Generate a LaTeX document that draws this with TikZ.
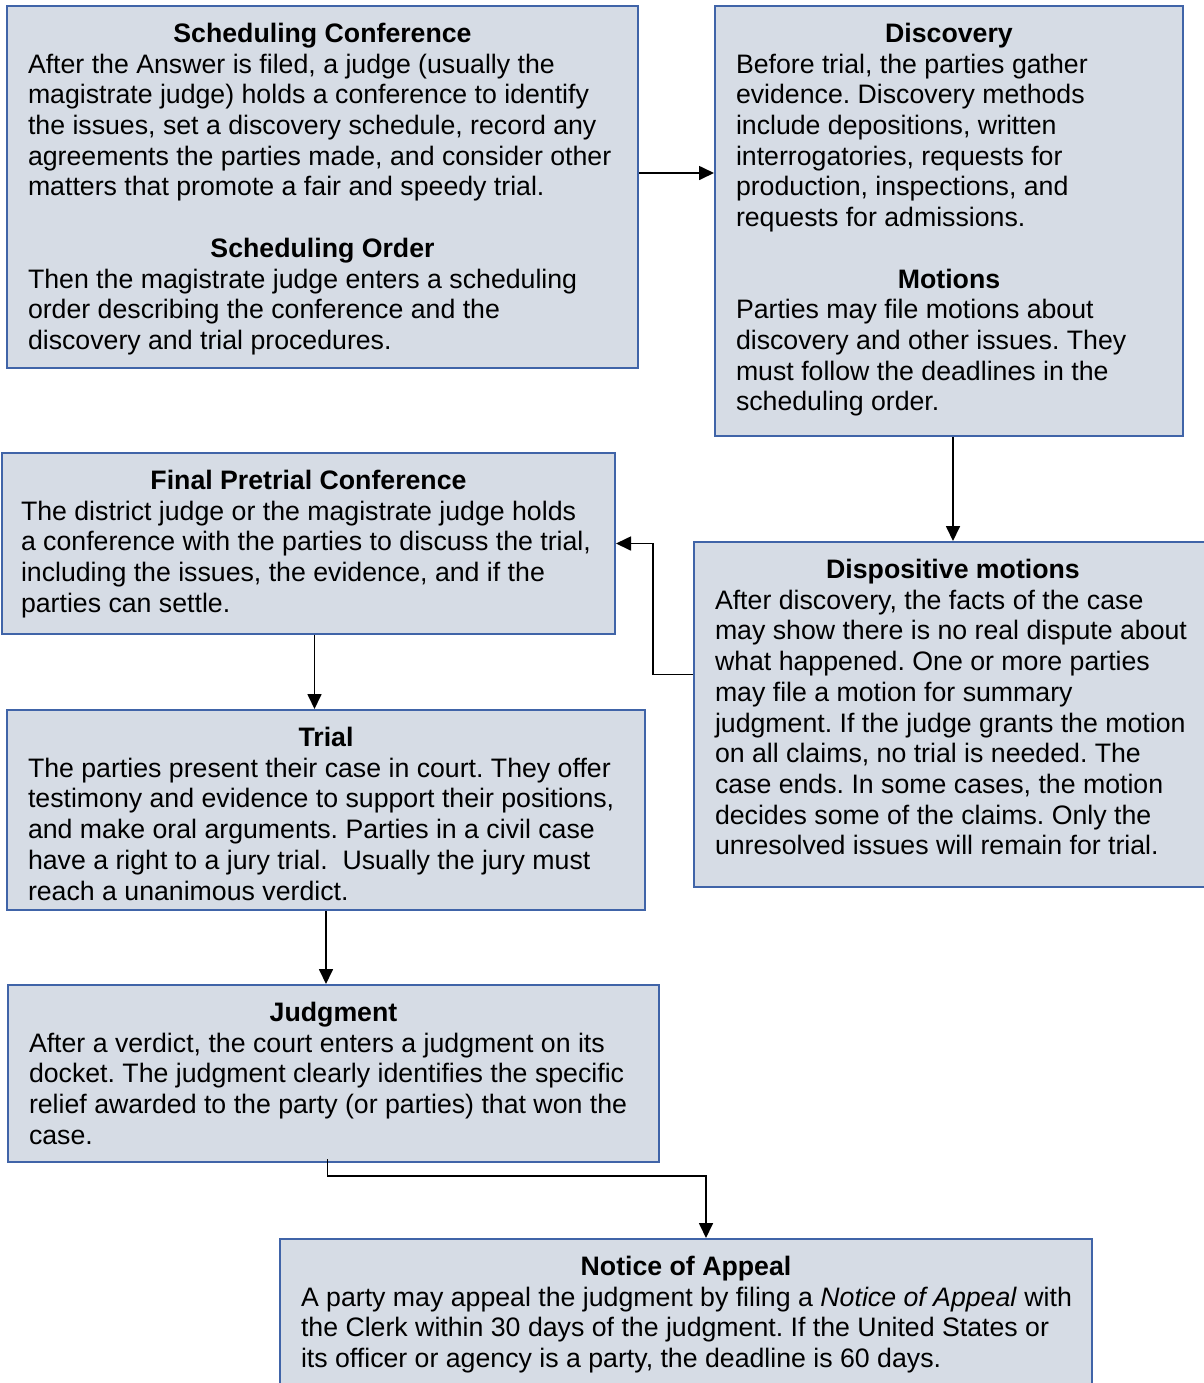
\documentclass[tikz,border=0pt]{standalone}
\usepackage{fontspec}
\setmainfont{Liberation Sans}
\usetikzlibrary{arrows.meta}
\definecolor{boxfill}{RGB}{214,220,229}
\definecolor{boxline}{RGB}{64,100,168}
\newcommand{\stagehead}[1]{{\centering\bfseries\strut #1\par}}
\frenchspacing

\begin{document}
\begin{tikzpicture}[x=0.5pt, y=-0.5pt,
  stage/.style={draw=boxline, fill=boxfill, line width=1pt, anchor=north west,
    inner xsep=10.5pt, inner ysep=7.5pt, font=\fontsize{13.35pt}{15.35pt}\selectfont},
  flow/.style={-{Triangle[length=7.5pt,width=7pt]}, line width=0.85pt}]
\useasboundingbox (0,0) rectangle (1204,1383);
\clip (0,0) rectangle (1204,1383);

\node [stage] (sched) at (6,5) {\parbox[c][166pt][t]{294.5pt}{\rightskip=-30pt plus 1fil
\stagehead{Scheduling Conference}
After the Answer is filed, a judge (usually the\\
magistrate judge) holds a conference to identify\\
the issues, set a discovery schedule, record any\\
agreements the parties made, and consider other\\
matters that promote a fair and speedy trial.\par\vskip\baselineskip
\stagehead{Scheduling Order}
Then the magistrate judge enters a scheduling\\
order describing the conference and the\\
discovery and trial procedures.}};

\node [stage] (disc) at (714,5) {\parbox[c][200pt][t]{213pt}{\rightskip=-30pt plus 1fil
\stagehead{Discovery}
Before trial, the parties gather\\
evidence. Discovery methods\\
include depositions, written\\
interrogatories, requests for\\
production, inspections, and\\
requests for admissions.\par\vskip\baselineskip
\stagehead{Motions}
Parties may file motions about\\
discovery and other issues. They\\
must follow the deadlines in the\\
scheduling order.}};

\node [stage, inner xsep=9.5pt] (pretrial) at (1,452) {\parbox[c][75.5pt][t]{287.5pt}{\rightskip=-30pt plus 1fil
\stagehead{Final Pretrial Conference}
The district judge or the magistrate judge holds\\
a conference with the parties to discuss the trial,\\
including the issues, the evidence, and if the\\
parties can settle.}};

\node [stage] (dispo) at (693,541) {\parbox[c][157.5pt][t]{238pt}{\rightskip=-30pt plus 1fil
\stagehead{Dispositive motions}
After discovery, the facts of the case\\
may show there is no real dispute about\\
what happened. One or more parties\\
may file a motion for summary\\
judgment. If the judge grants the motion\\
on all claims, no trial is needed. The\\
case ends. In some cases, the motion\\
decides some of the claims. Only the\\
unresolved issues will remain for trial.}};

\node [stage] (trial) at (6,709) {\parbox[c][85pt][t]{298pt}{\rightskip=-30pt plus 1fil
\stagehead{Trial}
The parties present their case in court. They offer\\
testimony and evidence to support their positions,\\
and make oral arguments. Parties in a civil case\\
have a right to a jury trial.~ Usually the jury must\\
reach a unanimous verdict.}};

\node [stage] (judg) at (7,984) {\parbox[c][73.5pt][t]{304.5pt}{\rightskip=-30pt plus 1fil
\stagehead{Judgment}
After a verdict, the court enters a judgment on its\\
docket. The judgment clearly identifies the specific\\
relief awarded to the party (or parties) that won the\\
case.}};

\node [stage] (notice) at (279,1238) {\parbox[c][76pt][t]{385pt}{\rightskip=-30pt plus 1fil
\stagehead{Notice of Appeal}
A party may appeal the judgment by filing a \textit{Notice of Appeal} with\\
the Clerk within 30 days of the judgment. If the United States or\\
its officer or agency is a party, the deadline is 60 days.}};

\draw [flow] ([yshift=7pt]sched.east) -- ([yshift=7pt]sched.east -| disc.west);
\draw [flow] ([xshift=2pt]disc.south) -- ([xshift=2pt]disc.south |- dispo.north);
\draw [flow] ([yshift=20pt]dispo.west) -- ++(-40,0) |- (pretrial.east);
\draw [flow] ([xshift=3pt]pretrial.south) -- ([xshift=3pt]pretrial.south |- trial.north);
\draw [flow] (trial.south) -- (trial.south |- judg.north);
\draw [flow] ([xshift=-3pt,yshift=2pt]judg.south) -- ++(0,17) -| ([xshift=10pt]notice.north);
\end{tikzpicture}
\end{document}
